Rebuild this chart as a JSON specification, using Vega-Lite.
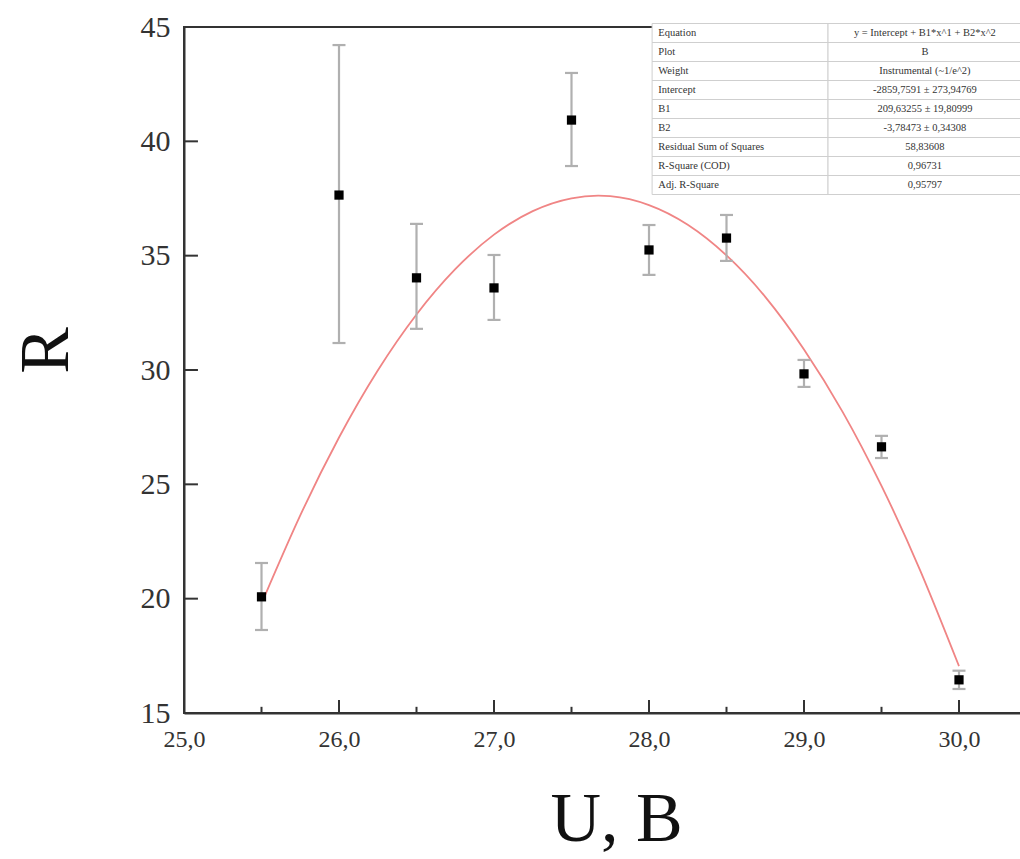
{
  "$schema": "https://vega.github.io/schema/vega-lite/v6.json",
  "width": 837,
  "height": 686,
  "autosize": "none",
  "padding": {"left": 184, "top": 27, "right": 0, "bottom": 146},
  "background": "white",
  "config": {
    "view": {"stroke": "#333", "strokeWidth": 2},
    "font": "Liberation Serif",
    "axis": {
      "grid": false,
      "ticks": false,
      "domainColor": "#333",
      "domainWidth": 2,
      "labelFont": "Liberation Serif",
      "labelFontSize": 24,
      "labelColor": "#333",
      "labelFlush": false,
      "titleFont": "Liberation Serif",
      "titleFontWeight": "normal",
      "titleColor": "#111",
      "titleFontSize": 70
    }
  },
  "datasets": {
    "pts": [
      {"U": 25.5, "R": 20.08, "lo": 18.63, "hi": 21.56},
      {"U": 26.0, "R": 37.65, "lo": 31.18, "hi": 44.21},
      {"U": 26.5, "R": 34.03, "lo": 31.8, "hi": 36.39},
      {"U": 27.0, "R": 33.59, "lo": 32.19, "hi": 35.03},
      {"U": 27.5, "R": 40.93, "lo": 38.92, "hi": 42.99},
      {"U": 28.0, "R": 35.25, "lo": 34.16, "hi": 36.34},
      {"U": 28.5, "R": 35.77, "lo": 34.77, "hi": 36.78},
      {"U": 29.0, "R": 29.83, "lo": 29.26, "hi": 30.44},
      {"U": 29.5, "R": 26.64, "lo": 26.15, "hi": 27.12},
      {"U": 30.0, "R": 16.45, "lo": 16.05, "hi": 16.85}
    ],
    "fit": [
      {"U": 25.52, "R": 20.1},
      {"U": 25.75, "R": 23.64},
      {"U": 26.0, "R": 27.05},
      {"U": 26.25, "R": 29.98},
      {"U": 26.5, "R": 32.43},
      {"U": 26.75, "R": 34.41},
      {"U": 27.0, "R": 35.92},
      {"U": 27.25, "R": 36.95},
      {"U": 27.5, "R": 37.51},
      {"U": 27.75, "R": 37.6},
      {"U": 28.0, "R": 37.21},
      {"U": 28.25, "R": 36.35},
      {"U": 28.5, "R": 35.01},
      {"U": 28.75, "R": 33.2},
      {"U": 29.0, "R": 30.9},
      {"U": 29.25, "R": 28.16},
      {"U": 29.5, "R": 24.93},
      {"U": 29.75, "R": 21.23},
      {"U": 30.0, "R": 17.05}
    ],
    "xmajor": [{"v": 26}, {"v": 27}, {"v": 28}, {"v": 29}, {"v": 30}],
    "xminor": [{"v": 25.5}, {"v": 26.5}, {"v": 27.5}, {"v": 28.5}, {"v": 29.5}],
    "ymajor": [{"v": 20}, {"v": 25}, {"v": 30}, {"v": 35}, {"v": 40}],
    "tbl": [
      {"row": 0, "label": "Equation", "value": "y = Intercept + B1*x^1 + B2*x^2"},
      {"row": 1, "label": "Plot", "value": "B"},
      {"row": 2, "label": "Weight", "value": "Instrumental (~1/e^2)"},
      {"row": 3, "label": "Intercept", "value": "-2859,7591 ± 273,94769"},
      {"row": 4, "label": "B1", "value": "209,63255 ± 19,80999"},
      {"row": 5, "label": "B2", "value": "-3,78473 ± 0,34308"},
      {"row": 6, "label": "Residual Sum of Squares", "value": "58,83608"},
      {"row": 7, "label": "R-Square (COD)", "value": "0,96731"},
      {"row": 8, "label": "Adj. R-Square", "value": "0,95797"}
    ]
  },
  "resolve": {"scale": {"y": "independent"}},
  "layer": [
    {
      "layer": [
        {
          "data": {"name": "fit"},
          "mark": {"type": "line", "color": "#f08585", "strokeWidth": 1.8, "interpolate": "natural"},
          "encoding": {
            "x": {
              "field": "U", "type": "quantitative",
              "scale": {"domain": [25, 30.4], "nice": false, "zero": false},
              "axis": {
                "title": "U, B",
                "titlePadding": 34,
                "titleX": 432,
                "values": [25, 26, 27, 28, 29, 30],
                "labelPadding": 14,
                "labelExpr": "replace(format(datum.value, '.1f'), '.', ',')"
              }
            },
            "y": {
              "field": "R", "type": "quantitative",
              "scale": {"domain": [15, 45], "nice": false, "zero": false},
              "axis": {
                "title": "R",
                "titlePadding": 58,
                "titleY": 323,
                "values": [15, 20, 25, 30, 35, 40, 45],
                "labelFontSize": 30,
                "labelPadding": 14
              }
            }
          }
        },
        {
          "data": {"name": "xmajor"},
          "mark": {"type": "rule", "color": "#333", "strokeWidth": 2},
          "encoding": {
            "x": {"field": "v", "type": "quantitative"},
            "y": {"datum": 15, "type": "quantitative"},
            "y2": {"datum": 15.57}
          }
        },
        {
          "data": {"name": "xminor"},
          "mark": {"type": "rule", "color": "#333", "strokeWidth": 2},
          "encoding": {
            "x": {"field": "v", "type": "quantitative"},
            "y": {"datum": 15, "type": "quantitative"},
            "y2": {"datum": 15.27}
          }
        },
        {
          "data": {"name": "ymajor"},
          "mark": {"type": "rule", "color": "#333", "strokeWidth": 2},
          "encoding": {
            "y": {"field": "v", "type": "quantitative"},
            "x": {"datum": 25, "type": "quantitative"},
            "x2": {"datum": 25.09}
          }
        },
        {
          "data": {"name": "pts"},
          "mark": {"type": "rule", "color": "#b0b0b0", "strokeWidth": 2.2},
          "encoding": {
            "x": {"field": "U", "type": "quantitative"},
            "y": {"field": "lo", "type": "quantitative"},
            "y2": {"field": "hi"}
          }
        },
        {
          "data": {"name": "pts"},
          "mark": {"type": "tick", "orient": "horizontal", "color": "#b0b0b0", "size": 13, "thickness": 2.2, "opacity": 1},
          "encoding": {
            "x": {"field": "U", "type": "quantitative"},
            "y": {"field": "lo", "type": "quantitative"}
          }
        },
        {
          "data": {"name": "pts"},
          "mark": {"type": "tick", "orient": "horizontal", "color": "#b0b0b0", "size": 13, "thickness": 2.2, "opacity": 1},
          "encoding": {
            "x": {"field": "U", "type": "quantitative"},
            "y": {"field": "hi", "type": "quantitative"}
          }
        },
        {
          "data": {"name": "pts"},
          "mark": {"type": "point", "shape": "square", "filled": true, "color": "#000", "size": 85, "opacity": 1},
          "encoding": {
            "x": {"field": "U", "type": "quantitative"},
            "y": {"field": "R", "type": "quantitative"}
          }
        }
      ]
    },
    {
      "data": {"name": "tbl"},
      "encoding": {
        "y": {
          "field": "row", "type": "quantitative",
          "scale": {"domain": [-0.316, 35.79], "reverse": true, "nice": false, "zero": false},
          "axis": null
        }
      },
      "layer": [
        {
          "mark": {"type": "rect", "fill": "white", "stroke": "#cfcfcf", "strokeWidth": 1, "height": 19},
          "encoding": {
            "x": {"datum": 28.02, "type": "quantitative"},
            "x2": {"datum": 29.155}
          }
        },
        {
          "mark": {"type": "rect", "fill": "white", "stroke": "#cfcfcf", "strokeWidth": 1, "height": 19},
          "encoding": {
            "x": {"datum": 29.155, "type": "quantitative"},
            "x2": {"datum": 30.6}
          }
        },
        {
          "mark": {"type": "text", "align": "left", "baseline": "middle", "font": "Liberation Serif", "fontSize": 10.5, "color": "#333"},
          "encoding": {
            "x": {"datum": 28.06, "type": "quantitative"},
            "text": {"field": "label"}
          }
        },
        {
          "mark": {"type": "text", "align": "center", "baseline": "middle", "font": "Liberation Serif", "fontSize": 10.5, "color": "#333"},
          "encoding": {
            "x": {"datum": 29.78, "type": "quantitative"},
            "text": {"field": "value"}
          }
        }
      ]
    }
  ]
}
